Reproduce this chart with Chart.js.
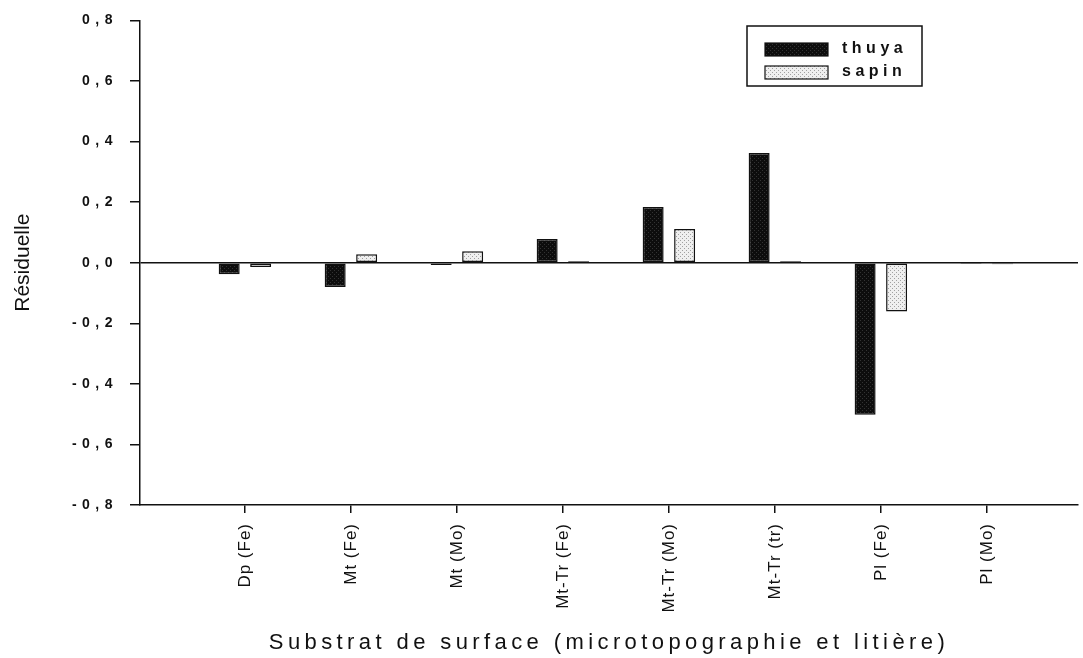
<!DOCTYPE html>
<html lang="fr">
<head>
<meta charset="utf-8">
<title>Résiduelle par substrat de surface</title>
<script src="https://cdn.jsdelivr.net/npm/chart.js@4.4.1/dist/chart.umd.min.js"></script>
<style>
  html, body { margin: 0; padding: 0; background: #fff; }
  #wrap { width: 1083px; height: 658px; }
</style>
</head>
<body>
<div id="wrap"><canvas id="residuChart"></canvas></div>
<script>
/* ================================
   Data
================================ */
const categories = ["Dp (Fe)", "Mt (Fe)", "Mt (Mo)", "Mt-Tr (Fe)", "Mt-Tr (Mo)", "Mt-Tr (tr)", "Pl (Fe)", "Pl (Mo)"];
const thuyaValues = [-0.038, -0.08, -0.008, 0.078, 0.184, 0.362, -0.502, -0.004];
const sapinValues = [-0.014, 0.028, 0.038, 0.005, 0.111, 0.005, -0.161, -0.005];
const yTicks = [-0.8, -0.6, -0.4, -0.2, 0, 0.2, 0.4, 0.6, 0.8];

const FONT = "'Liberation Sans', Arial, sans-serif";
const INK = "#111";

/* ================================
   Fills
================================ */
function dotPattern(bg, dot) {
  const c = document.createElement("canvas");
  c.width = 4;
  c.height = 4;
  const g = c.getContext("2d");
  g.fillStyle = bg;
  g.fillRect(0, 0, 4, 4);
  g.fillStyle = dot;
  g.fillRect(0, 0, 1, 1);
  g.fillRect(2, 2, 1, 1);
  return g.createPattern(c, "repeat");
}

const thuyaFill = dotPattern("#0d0d0d", "#333");
const sapinFill = dotPattern("#efefef", "#a0a0a0");

/* ================================
   Plugins
================================ */
// canvas letterSpacing, only around the text we want spaced out
function withSpacing(fn, spacing) {
  return function (...args) {
    const ctx = this.ctx;
    const prev = ctx.letterSpacing;
    ctx.letterSpacing = spacing;
    fn.apply(this, args);
    ctx.letterSpacing = prev;
  };
}

const spacingPlugin = {
  id: "spacing",
  afterLayout(chart) {
    const { x, y } = chart.scales;
    if (!x._spaced) {
      x.drawLabels = withSpacing(x.drawLabels, "1px");
      x.drawTitle = withSpacing(x.drawTitle, "4.4px");
      x._spaced = true;
    }
    if (!y._spaced) {
      y.drawLabels = withSpacing(y.drawLabels, "5.5px");
      y._spaced = true;
    }
  }
};

// boxed legend inside the plot, top right
const boxLegend = {
  id: "boxLegend",
  afterDraw(chart) {
    const ctx = chart.ctx;
    ctx.save();
    ctx.lineWidth = 1.5;
    ctx.strokeStyle = INK;
    ctx.strokeRect(747, 26, 175, 60);

    ctx.font = `bold 16px ${FONT}`;
    ctx.letterSpacing = "4.5px";
    ctx.textBaseline = "middle";

    chart.data.datasets.forEach((ds, i) => {
      const top = 43 + i * 23;
      ctx.fillStyle = ds.backgroundColor;
      ctx.fillRect(765, top, 63, 13);
      ctx.lineWidth = 1.2;
      ctx.strokeRect(765, top, 63, 13);
      ctx.fillStyle = INK;
      ctx.fillText(ds.label, 842, top + 6);
    });
    ctx.restore();
  }
};

/* ================================
   Chart
================================ */
function renderResiduChart() {
  const barStyle = {
    borderColor: INK,
    borderWidth: 1.5,
    borderSkipped: false,
    barPercentage: 0.667,
    categoryPercentage: 0.594
  };

  new Chart(document.getElementById("residuChart"), {
    type: "bar",
    data: {
      datasets: [
        {
          label: "thuya",
          data: thuyaValues.map((v, i) => ({ x: i, y: v })),
          backgroundColor: thuyaFill,
          ...barStyle
        },
        {
          label: "sapin",
          data: sapinValues.map((v, i) => ({ x: i, y: v })),
          backgroundColor: sapinFill,
          ...barStyle
        }
      ]
    },
    options: {
      responsive: true,
      maintainAspectRatio: false,
      animation: false,
      layout: { padding: { top: 19, right: 5, bottom: 0, left: 0 } },
      plugins: {
        legend: { display: false },
        tooltip: { enabled: false }
      },
      scales: {
        x: {
          type: "linear",
          min: -0.99,
          max: 7.86,
          offset: false,
          afterBuildTicks: s => { s.ticks = categories.map((_, i) => ({ value: i })); },
          afterFit: s => { s.height = 153; },
          ticks: {
            autoSkip: false,
            minRotation: 90,
            maxRotation: 90,
            padding: 10,
            color: INK,
            font: { family: FONT, size: 17 },
            callback: v => categories[v]
          },
          grid: { offset: false, drawOnChartArea: false, tickLength: 8, color: INK, lineWidth: 1.5 },
          border: { color: INK, width: 1.5 },
          title: {
            display: true,
            text: "Substrat de surface (microtopographie et litière)",
            color: INK,
            font: { family: FONT, size: 22 },
            padding: { top: 0, bottom: 2 }
          }
        },
        y: {
          min: -0.8,
          max: 0.8,
          afterBuildTicks: s => { s.ticks = yTicks.map(v => ({ value: v })); },
          afterFit: s => { s.width = 140; },
          ticks: {
            padding: 12,
            color: INK,
            font: { family: FONT, size: 14, weight: "bold" },
            callback: v => v.toFixed(1).replace(".", ",")
          },
          grid: {
            color: c => (c.tick && c.tick.value === 0 ? INK : "rgba(0,0,0,0)"),
            tickColor: INK,
            tickLength: 10,
            lineWidth: 1.5
          },
          border: { color: INK, width: 1.5 },
          title: {
            display: true,
            text: "Résiduelle",
            color: INK,
            font: { family: FONT, size: 21 },
            padding: { top: 11, bottom: 0 }
          }
        }
      }
    },
    plugins: [spacingPlugin, boxLegend]
  });
}

document.addEventListener("DOMContentLoaded", renderResiduChart);
</script>
</body>
</html>
